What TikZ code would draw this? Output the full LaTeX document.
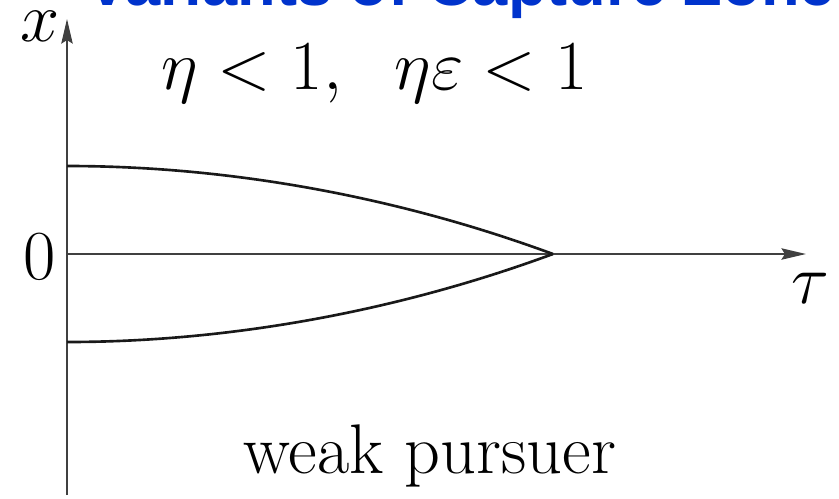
\RequirePackage{fix-cm}
\documentclass[tikz,border=0pt]{standalone}
\usepackage{fontspec}
\newfontfamily\titlefont{Liberation Sans}
\usetikzlibrary{arrows.meta}
\definecolor{titleblue}{RGB}{0,51,204}

\begin{document}
\begin{tikzpicture}[x=0.02cm, y=-0.02cm,
    axis/.style={line width=0.9pt, draw=black!75, -{Stealth[length=14pt, width=6.5pt, inset=2pt]}},
    zone/.style={line width=1.5pt, draw=black!90},
    lbl/.style={font=\fontsize{40}{46}\selectfont, inner sep=0pt}]
    % Frame (the page is 839 x 498)
    \useasboundingbox (0,0) rectangle (839,498);
    \clip (0,0) rectangle (839,498);

    % Title, cut by the top edge
    \node[anchor=base west, inner sep=0pt, font=\titlefont\bfseries\fontsize{36}{40}\selectfont, text=titleblue] (title) at (86,5) {Variants of Capture Zone};

    % Axes
    \coordinate (o) at (67,254);
    \coordinate (xbot) at (67,495);
    \coordinate (xtop) at (67,19);
    \coordinate (tend) at (806,254);
    \coordinate (tip) at (553,254);
    \draw[axis] (xbot) -- (xtop);
    \draw[axis] (o) -- (tend);

    % Boundary of the capture zone
    \draw[zone] (67,166) parabola (tip);
    \draw[zone] (67,342) parabola (tip);

    % Axis labels
    \node[lbl] (xlab) at (40,26) {$x$};
    \node[lbl, anchor=base] (zero) at (40,279) {$0$};
    \node[lbl] (taulab) at (810,288) {$\tau$};

    % Conditions and caption
    \node[lbl, anchor=base] (cond) at (375,89) {$\eta<1,\ \;\eta\varepsilon<1$};
    \node[lbl, anchor=base] (caption) at (430,473) {weak pursuer};
\end{tikzpicture}
\end{document}
